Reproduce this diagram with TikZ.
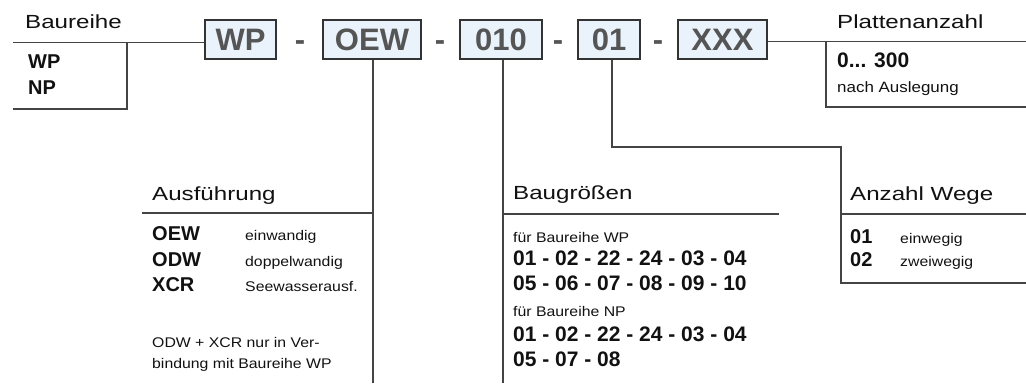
\documentclass[tikz,border=0pt]{standalone}
\usepackage{fontspec}
\usepackage{graphicx}
\setmainfont{Liberation Sans}
\newcommand{\wideH}[1]{\scalebox{1.27}[1]{#1}}
\newcommand{\wideS}[1]{\scalebox{1.13}[1]{#1}}
\definecolor{boxfill}{HTML}{EAF3FC}
\definecolor{boxline}{HTML}{333333}
\definecolor{codegray}{HTML}{555555}
\definecolor{rulegray}{HTML}{444444}
\definecolor{ink}{HTML}{111111}
\begin{document}
\begin{tikzpicture}[x=1pt,y=-1pt,
  codebox/.style={draw=boxline, fill=boxfill, line width=1.1pt, inner sep=0pt,
    minimum height=39pt, text=codegray, font=\fontsize{31}{31}\selectfont\bfseries},
  sepmark/.style={anchor=base, inner sep=0pt, text=codegray,
    font=\fontsize{31}{31}\selectfont\bfseries},
  rule/.style={draw=rulegray, line width=1.1pt},
  hdr/.style={anchor=base west, inner sep=0pt, text=ink,
    font=\fontsize{19}{22}\selectfont},
  small/.style={anchor=base west, inner sep=0pt, text=ink,
    font=\fontsize{14}{16}\selectfont},
  key/.style={anchor=base west, inner sep=0pt, text=ink,
    font=\fontsize{20}{22}\selectfont\bfseries},
  num/.style={anchor=base west, inner sep=0pt, text=ink,
    font=\fontsize{21}{24}\selectfont\bfseries},
]
\useasboundingbox (0,0) rectangle (1026,385);

% type code boxes
\node[codebox, minimum width=71pt] (wp)  at (240.5,39.5) {WP};
\node[codebox, minimum width=98pt] (oew) at (372,39.5) {OEW};
\node[codebox, minimum width=82pt] (siz) at (501,39.5) {010};
\node[codebox, minimum width=62pt] (way) at (609,39.5) {01};
\node[codebox, minimum width=89pt] (xxx) at (722.5,39.5) {XXX};
\node[sepmark] (s1) at (300,50.5) {-};
\node[sepmark] (s2) at (440,50.5) {-};
\node[sepmark] (s3) at (558,50.5) {-};
\node[sepmark] (s4) at (658,50.5) {-};

% Baureihe
\coordinate (bL) at (13,42.5);
\coordinate (bC) at (127,42.5);
\coordinate (bD) at (127,109);
\coordinate (bE) at (13,109);
\draw[rule] (bL) -- (bL -| wp.west);
\draw[rule] (bC) -- (bD) -- (bE);
\node[hdr] (tB) at (25,29) {\wideH{Baureihe}};
\node[key] (kWP) at (28,68.5) {WP};
\node[key] (kNP) at (28,95) {NP};

% Plattenanzahl
\coordinate (pR) at (1026,41.5);
\coordinate (pT) at (826,41.5);
\coordinate (pB) at (826,107);
\coordinate (pBR) at (1026,107);
\draw[rule] (pR -| xxx.east) -- (pR);
\draw[rule] (pT) -- (pB) -- (pBR);
\node[hdr] (tP) at (837,28.3) {\wideH{Plattenanzahl}};
\node[num] (kP) at (837,68) {0... 300};
\node[small, font=\fontsize{15}{17}\selectfont] (dP) at (837,93) {\wideS{nach Auslegung}};

% Ausfuehrung
\coordinate (aBot) at (373,383);
\coordinate (aL) at (142,213);
\draw[rule] (aBot |- oew.south) -- (aBot);
\draw[rule] (aL) -- (aL -| aBot);
\node[hdr] (tA) at (152,200.5) {\wideH{Ausführung}};
\node[key] (kA1) at (152,240.5) {OEW};
\node[key] (kA2) at (152,266) {ODW};
\node[key] (kA3) at (152,291.5) {XCR};
\node[small] (dA1) at (245,240.5) {\wideS{einwandig}};
\node[small] (dA2) at (245,266) {\wideS{doppelwandig}};
\node[small] (dA3) at (245,291.5) {\wideS{Seewasserausf.}};
\node[small] (nA1) at (152,347) {\wideS{ODW + XCR nur in Ver-}};
\node[small] (nA2) at (152,368) {\wideS{bindung mit Baureihe WP}};

% Baugroessen
\coordinate (gBot) at (503,383);
\coordinate (gR) at (779,214);
\draw[rule] (gBot |- siz.south) -- (gBot);
\draw[rule] (gR -| gBot) -- (gR);
\node[hdr] (tG) at (513,200) {\wideH{Baugrößen}};
\node[small] (dG1) at (513,242.3) {\wideS{für Baureihe WP}};
\node[num] (kG1) at (513,265) {01 - 02 - 22 - 24 - 03 - 04};
\node[num] (kG2) at (513,290.3) {05 - 06 - 07 - 08 - 09 - 10};
\node[small] (dG2) at (513,316.5) {\wideS{für Baureihe NP}};
\node[num] (kG3) at (513,341.7) {01 - 02 - 22 - 24 - 03 - 04};
\node[num] (kG4) at (513,366.7) {05 - 07 - 08};

% Anzahl Wege
\coordinate (wA) at (612,147);
\coordinate (wB) at (841,147);
\coordinate (wC) at (841,283);
\coordinate (wD) at (1026,283);
\coordinate (wE) at (1026,214);
\draw[rule] (wA |- way.south) -- (wA) -- (wB) -- (wC) -- (wD);
\draw[rule] (wE -| wB) -- (wE);
\node[hdr] (tW) at (850,200.7) {\wideH{Anzahl Wege}};
\node[key] (kW1) at (850,243.5) {01};
\node[key] (kW2) at (850,266) {02};
\node[small] (dW1) at (900,243.5) {\wideS{einwegig}};
\node[small] (dW2) at (900,266) {\wideS{zweiwegig}};
\end{tikzpicture}
\end{document}
